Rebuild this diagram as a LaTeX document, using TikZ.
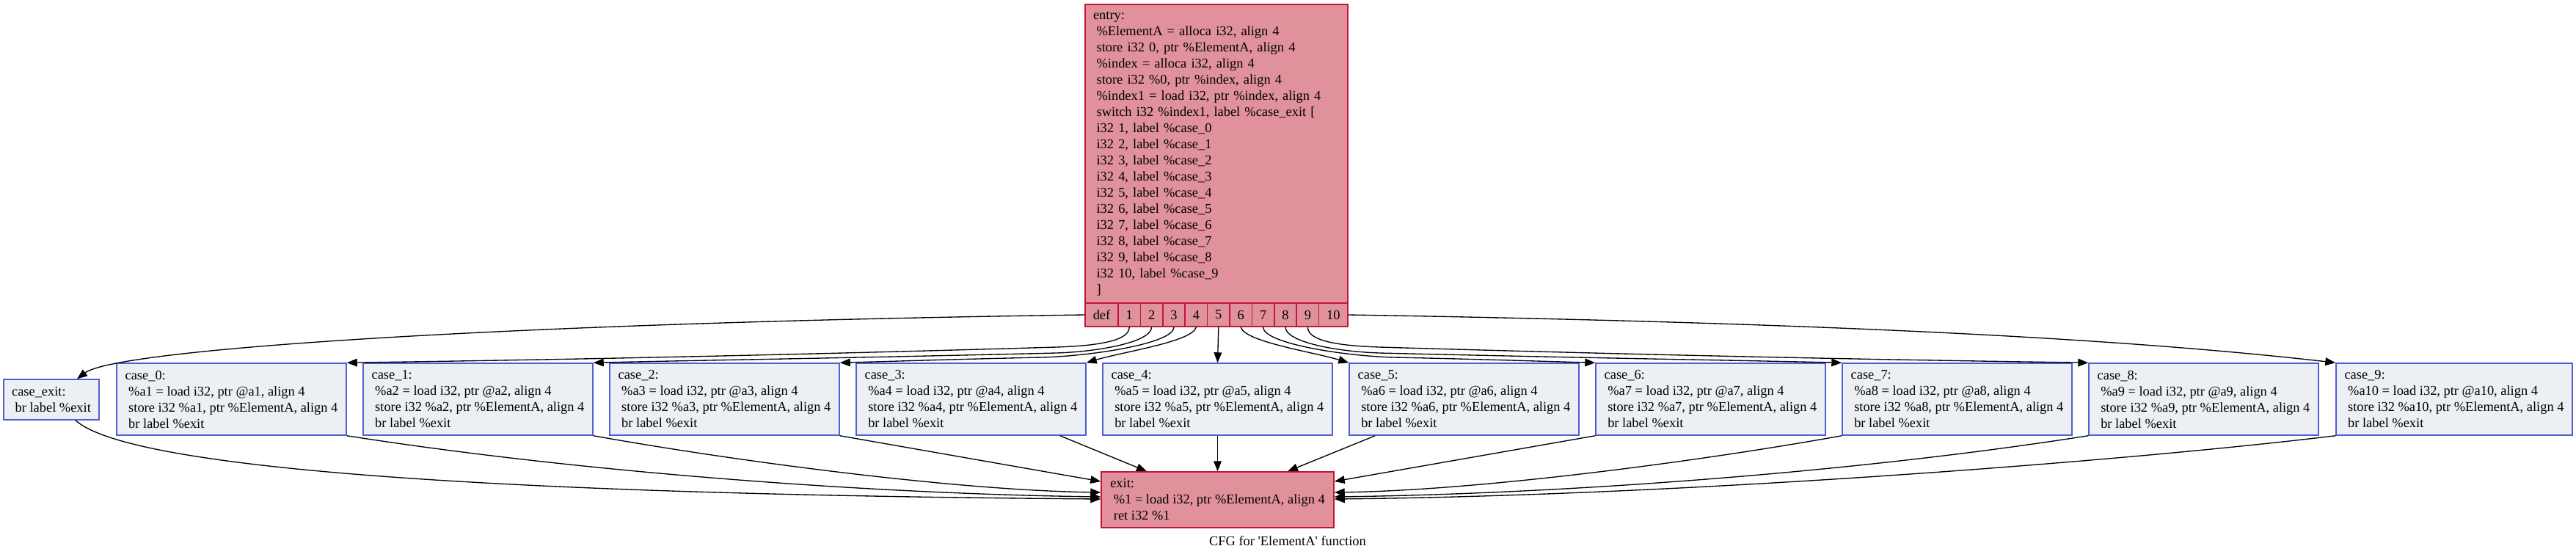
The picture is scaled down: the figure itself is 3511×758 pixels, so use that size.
\documentclass[tikz,border=0pt]{standalone}
\usepackage{fontspec}
\setmainfont{Liberation Serif}
\usetikzlibrary{arrows.meta}
\definecolor{pinkfill}{HTML}{E0919B}
\definecolor{pinkline}{HTML}{C2153A}
\definecolor{casefill}{HTML}{ECEFF4}
\definecolor{caseline}{HTML}{4E5ED4}
\newcommand\indt{\hspace*{0.25em}}
\tikzset{
  blk/.style={line width=1.1pt, inner sep=0pt, align=left, anchor=center},
  pinkblk/.style={blk, fill=pinkfill, draw=pinkline},
  caseblk/.style={blk, fill=casefill, draw=caseline, minimum height=73.5pt, minimum width=234.75pt},
  portcell/.style={draw=pinkline, fill=pinkfill, line width=1.1pt, inner sep=0pt, minimum height=24pt, minimum width=22.8pt, anchor=center},
  edge/.style={draw=black, line width=1pt, -{Triangle[length=10.5pt,width=8pt]}},
}
\begin{document}
\begin{tikzpicture}[x=0.75pt,y=-0.75pt,font=\fontsize{13.8}{16.5}\selectfont]
\useasboundingbox (0,0) rectangle (3511,758);
\fill[white] (0,0) rectangle (3511,758);

% entry block
\node[pinkblk, text width=252pt, inner xsep=8.25pt, minimum height=305.25pt] (entry) at (1658,209.5) {entry:\\
\indt\%ElementA = alloca i32, align 4\\
\indt store i32 0, ptr \%ElementA, align 4\\
\indt\%index = alloca i32, align 4\\
\indt store i32 \%0, ptr \%index, align 4\\
\indt\%index1 = load i32, ptr \%index, align 4\\
\indt switch i32 \%index1, label \%case\_exit [\\
\indt i32 1, label \%case\_0\\
\indt i32 2, label \%case\_1\\
\indt i32 3, label \%case\_2\\
\indt i32 4, label \%case\_3\\
\indt i32 5, label \%case\_4\\
\indt i32 6, label \%case\_5\\
\indt i32 7, label \%case\_6\\
\indt i32 8, label \%case\_7\\
\indt i32 9, label \%case\_8\\
\indt i32 10, label \%case\_9\\
\indt ]};

% ports
\node[portcell, minimum width=33.75pt] (p0) at (1501.5,429) {def};
\foreach \k in {1,...,9} {
  \pgfmathsetmacro{\px}{1539.2+30.4*(\k-1)}
  \node[portcell] (p\k) at (\px,429) {\k};
}
\node[portcell, minimum width=29.55pt] (p10) at (1817.3,429) {10};

% case blocks
\node[blk, fill=casefill, draw=caseline, minimum width=97.5pt, minimum height=41.25pt] (caseexit) at (70,544.5) {case\_exit:\\ \indt br label \%exit};
\foreach \k in {0,...,8} {
  \pgfmathsetmacro{\cx}{315.5+336*\k}
  \pgfmathtruncatemacro{\j}{\k+1}
  \node[caseblk] (c\k) at (\cx,544) {case\_\k:\\
  \indt\%a\j{} = load i32, ptr @a\j, align 4\\
  \indt store i32 \%a\j, ptr \%ElementA, align 4\\
  \indt br label \%exit};
}
\node[caseblk, minimum width=241.5pt] (c9) at (3345,544) {case\_9:\\
\indt\%a10 = load i32, ptr @a10, align 4\\
\indt store i32 \%a10, ptr \%ElementA, align 4\\
\indt br label \%exit};

% exit block
\node[pinkblk, minimum width=237.75pt, minimum height=57pt] (exit) at (1659.5,681) {exit:\\
\indt\%1 = load i32, ptr \%ElementA, align 4\\
\indt ret i32 \%1};

\node (title) at (1755,737) {CFG for \textquotesingle ElementA\textquotesingle{} function};

% edges entry -> cases
\draw[edge] (p0.west) .. controls (700,440) and (160,475) .. ([xshift=26.25pt]caseexit.north);
\draw[edge] (p1.south) .. controls +(0,18) and +(60,-2) .. (1440,473) .. controls (1000,486) and (700,491) .. (c0.north east);
\draw[edge] (p2.south) .. controls +(0,20) and +(60,-2) .. (1440,481) .. controls (1150,488) and (950,491) .. (c1.north east);
\draw[edge] (p3.south) .. controls +(0,22) and +(70,-2) .. (1420,487) .. controls (1320,489) and (1230,492) .. (c2.north east);
\draw[edge] (p4.south) .. controls +(-5,20) and +(50,-15) .. (c3.north east);
\draw[edge] (p5.south) -- (c4.north);
\draw[edge] (p6.south) .. controls +(5,20) and +(-50,-15) .. (c5.north west);
\draw[edge] (p7.south) .. controls +(0,22) and +(-70,-2) .. (1900,487) .. controls (2000,489) and (2090,492) .. (c6.north west);
\draw[edge] (p8.south) .. controls +(0,20) and +(-60,-2) .. (1880,481) .. controls (2170,488) and (2370,491) .. (c7.north west);
\draw[edge] (p9.south) .. controls +(0,18) and +(-60,-2) .. (1880,473) .. controls (2320,486) and (2620,491) .. (c8.north west);
\draw[edge] (p10.east) .. controls (2500,440) and (2900,462) .. (c9.north west);

% edges cases -> exit
\draw[edge] ([xshift=24.75pt]caseexit.south) .. controls (160,625) and (500,672) .. ([yshift=0.75pt]exit.west);
\draw[edge] (c0.south east) .. controls (800,645) and (1200,673) .. ([yshift=3pt]exit.west);
\draw[edge] (c1.south east) .. controls (1000,628) and (1300,668) .. ([yshift=7.5pt]exit.west);
\draw[edge] (c2.south east) -- ([yshift=18.75pt]exit.west);
\draw[edge] ([xshift=91pt]c3.south) -- ([xshift=-72.4pt]exit.north);
\draw[edge] (c4.south) -- (exit.north);
\draw[edge] ([xshift=-91pt]c5.south) -- ([xshift=71.6pt]exit.north);
\draw[edge] (c6.south west) -- ([yshift=18.75pt]exit.east);
\draw[edge] (c7.south west) .. controls (2320,628) and (2020,668) .. ([yshift=7.5pt]exit.east);
\draw[edge] (c8.south west) .. controls (2520,645) and (2120,673) .. ([yshift=3pt]exit.east);
\draw[edge] (c9.south west) .. controls (2900,628) and (2300,675) .. ([yshift=0.75pt]exit.east);
\end{tikzpicture}
\end{document}
